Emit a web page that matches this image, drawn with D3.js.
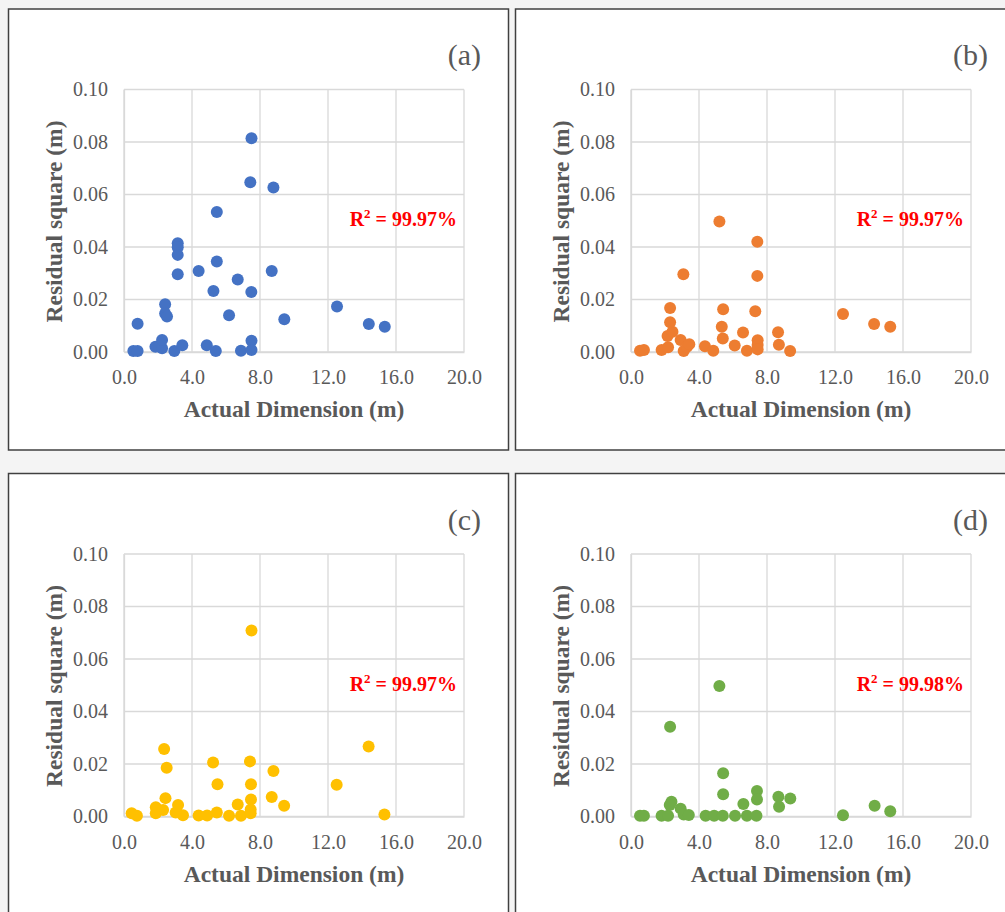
<!DOCTYPE html>
<html><head><meta charset="utf-8">
<script src="https://cdn.jsdelivr.net/npm/d3@7"></script>
<style>html,body{margin:0;padding:0;background:#f4f4f4;}svg{display:block;}</style>
</head><body>
<script>
// ---- Data ----
const panelLabels = ["(a)", "(b)", "(c)", "(d)"];
const r2Labels = ["99.97%", "99.97%", "99.97%", "99.98%"];
const seriesColors = ["#4472C4", "#ED7D31", "#FFC000", "#70AD47"];
const xTicks = [0, 4, 8, 12, 16, 20];
const yTicks = [0, 0.02, 0.04, 0.06, 0.08, 0.10];

const xA = [0.55,0.80,0.80,1.85,2.24,2.24,2.42,2.42,2.53,2.96,3.16,3.16,3.16,3.16,3.43,4.39,4.87,5.26,5.40,5.46,5.46,6.18,6.69,6.88,7.43,7.50,7.49,7.50,7.50,8.69,8.79,9.43,12.53,14.40,15.34];
const yA = [0.0004,0.0004,0.0108,0.0020,0.0014,0.0046,0.0182,0.0147,0.0135,0.0004,0.0414,0.0399,0.0370,0.0296,0.0026,0.0309,0.0026,0.0232,0.0004,0.0533,0.0345,0.0140,0.0276,0.0005,0.0647,0.0814,0.0229,0.0043,0.0008,0.0309,0.0627,0.0125,0.0173,0.0107,0.0096];

const xB = [0.53,0.76,1.80,2.18,2.15,2.44,2.30,2.30,2.92,3.08,3.10,3.30,3.43,4.35,4.84,5.20,5.34,5.40,5.42,6.10,6.59,6.82,7.31,7.43,7.43,7.45,7.45,7.45,8.65,8.70,9.36,12.47,14.30,15.25];
const yB = [0.0005,0.0008,0.0008,0.0018,0.0061,0.0077,0.0113,0.0168,0.0046,0.0296,0.0004,0.0020,0.0030,0.0022,0.0005,0.0497,0.0096,0.0051,0.0163,0.0025,0.0074,0.0005,0.0155,0.0420,0.0290,0.0045,0.0027,0.0010,0.0075,0.0028,0.0004,0.0145,0.0107,0.0096];

const xC = [0.45,0.76,1.87,1.87,2.30,2.36,2.44,2.51,3.04,3.18,3.47,4.39,4.89,5.24,5.46,5.50,6.18,6.69,6.88,7.41,7.47,7.47,7.45,7.45,7.50,8.69,8.79,9.42,12.51,14.39,15.32];
const yC = [0.0012,0.0003,0.0035,0.0012,0.0025,0.0257,0.0070,0.0186,0.0015,0.0044,0.0005,0.0004,0.0004,0.0206,0.0015,0.0123,0.0003,0.0046,0.0003,0.0210,0.0123,0.0065,0.0027,0.0012,0.0709,0.0074,0.0173,0.0041,0.0121,0.0267,0.0008];

const xD = [0.53,0.76,1.80,2.18,2.30,2.38,2.28,2.92,3.10,3.40,4.39,4.89,5.20,5.40,5.42,5.42,6.12,6.61,6.82,7.38,7.41,7.41,8.67,8.71,9.37,12.47,14.33,15.25];
const yD = [0.0003,0.0003,0.0003,0.0003,0.0342,0.0056,0.0044,0.0030,0.0008,0.0006,0.0003,0.0003,0.0497,0.0003,0.0165,0.0085,0.0003,0.0048,0.0003,0.0003,0.0097,0.0065,0.0075,0.0037,0.0069,0.0005,0.0041,0.0020];

const xSeries = [xA, xB, xC, xD];
const ySeries = [yA, yB, yC, yD];

// ---- Layout ----
const W = 1005, H = 912;
const svg = d3.select("body").append("svg").attr("width", W).attr("height", H);
svg.append("rect").attr("width", W).attr("height", H).attr("fill", "#f4f4f4");

const offsets = [[0,0],[507,0],[0,464.5],[507,464.5]];
const serif = "'Liberation Serif', 'Times New Roman', serif";

const x = d3.scaleLinear().domain([0, 20]).range([124, 464]);
const y = d3.scaleLinear().domain([0, 0.10]).range([352, 89.5]);

offsets.forEach((off, i) => {
  const g = svg.append("g").attr("transform", `translate(${off[0]},${off[1]})`);
  g.append("rect").attr("x", 8.5).attr("y", 9).attr("width", 500).attr("height", 441)
    .attr("fill", "#ffffff").attr("stroke", "#404040").attr("stroke-width", 1.5);

  // gridlines
  g.append("g").selectAll("line.h").data(yTicks).join("line")
    .attr("x1", x(0)).attr("x2", x(20)).attr("y1", d => y(d)).attr("y2", d => y(d))
    .attr("stroke", "#d9d9d9").attr("stroke-width", 1.3);
  g.append("g").selectAll("line.v").data(xTicks).join("line")
    .attr("y1", y(0.10)).attr("y2", y(0)).attr("x1", d => x(d)).attr("x2", d => x(d))
    .attr("stroke", "#d9d9d9").attr("stroke-width", 1.3);

  // axes via d3
  const xAxis = d3.axisBottom(x).tickValues(xTicks).tickFormat(d3.format(".1f")).tickSize(0).tickPadding(18);
  const yAxis = d3.axisLeft(y).tickValues(yTicks).tickFormat(d3.format(".2f")).tickSize(0).tickPadding(16);
  const gx = g.append("g").attr("transform", `translate(0,${y(0)})`).call(xAxis);
  const gy = g.append("g").attr("transform", `translate(${x(0)},0)`).call(yAxis);
  [gx, gy].forEach(a => {
    a.select(".domain").attr("stroke", "#d9d9d9").attr("stroke-width", 1.3);
    a.selectAll("text").attr("fill", "#595959").style("font-family", serif).style("font-size", "20px");
  });

  // axis titles
  g.append("text").attr("x", 294).attr("y", 417).attr("text-anchor", "middle")
    .style("font-family", serif).style("font-size", "23.5px").style("font-weight", "bold").attr("fill", "#595959")
    .text("Actual Dimension (m)");
  g.append("text").attr("transform", `translate(62,221.5) rotate(-90)`).attr("text-anchor", "middle")
    .style("font-family", serif).style("font-size", "23.5px").style("font-weight", "bold").attr("fill", "#595959")
    .text("Residual square (m)");

  // panel label
  g.append("text").attr("x", 481).attr("y", 65).attr("text-anchor", "end")
    .style("font-family", serif).style("font-size", "30px").attr("fill", "#595959").text(panelLabels[i]);

  // R2 annotation
  const t = g.append("text").attr("x", 457).attr("y", 226).attr("text-anchor", "end")
    .style("font-family", serif).style("font-size", "20px").style("font-weight", "bold").attr("fill", "#ff0000");
  t.append("tspan").text("R");
  t.append("tspan").attr("dy", -8).style("font-size", "13px").text("2");
  t.append("tspan").attr("dy", 8).text(" = " + r2Labels[i]);

  // points
  const pts = xSeries[i].map((v, k) => [v, ySeries[i][k]]);
  g.append("g").selectAll("circle").data(pts).join("circle")
    .attr("cx", d => x(d[0])).attr("cy", d => y(d[1])).attr("r", 6)
    .attr("fill", seriesColors[i]);
});
</script>
</body></html>
